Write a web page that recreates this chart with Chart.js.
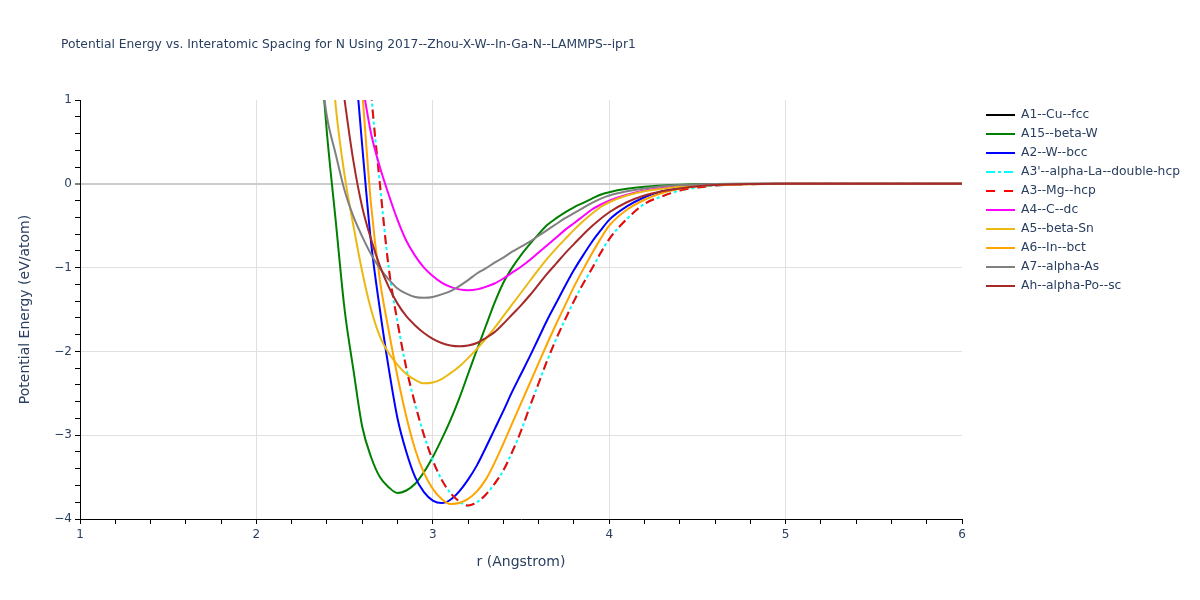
<!DOCTYPE html>
<html>
<head>
<meta charset="utf-8">
<script src="https://cdn.jsdelivr.net/npm/chart.js@4"></script>
<style>
  html, body { margin: 0; padding: 0; background: #fff; }
  #wrap { width: 1200px; height: 600px; }
</style>
</head>
<body>
<div id="wrap"><canvas id="energyChart" width="1200" height="600"></canvas></div>
<script>
// interatomic spacing (Angstrom), shared by all curves
const rValues = [2.35, 2.40, 2.45, 2.50, 2.55, 2.60, 2.65, 2.70, 2.75, 2.80, 2.85, 2.90, 2.95, 3.00,
    3.05, 3.10, 3.15, 3.20, 3.25, 3.30, 3.35, 3.40, 3.45, 3.50, 3.55, 3.60, 3.65, 3.70, 3.75, 3.80,
    3.85, 3.90, 3.95, 4.00, 4.1, 4.2, 4.3, 4.4, 4.5, 4.6, 4.8, 5.0, 5.5, 6.0];

// potential energy (eV/atom) per structure
const eA1 = []; // listed in the legend, no visible curve
const eA15 = [1.9, 0.6, -0.45, -1.5, -2.22, -2.9, -3.26, -3.5, -3.62, -3.69, -3.66, -3.58, -3.44, -3.26,
    -3.05, -2.82, -2.56, -2.27, -1.98, -1.70, -1.42, -1.18, -1.0, -0.85, -0.72, -0.6, -0.49, -0.41, -0.34, -0.28,
    -0.23, -0.18, -0.13, -0.1, -0.06, -0.035, -0.02, -0.01, -0.005, -0.002, 0, 0, 0, 0];
const eA2 = [null, null, null, null, 1.7, 0.45, -0.7, -1.5, -2.2, -2.8, -3.2, -3.5, -3.68, -3.78,
    -3.81, -3.77, -3.67, -3.53, -3.36, -3.15, -2.93, -2.71, -2.48, -2.27, -2.06, -1.84, -1.62, -1.42, -1.22, -1.03,
    -0.86, -0.7, -0.56, -0.43, -0.27, -0.16, -0.09, -0.05, -0.025, -0.012, -0.003, 0, 0, 0];
const eA3p = [null, null, null, null, null, 2.6, 1.1, 0.0, -1.0, -1.65, -2.2, -2.63, -3.0, -3.3,
    -3.53, -3.69, -3.79, -3.84, -3.8, -3.71, -3.58, -3.42, -3.2, -2.95, -2.66, -2.38, -2.1, -1.85, -1.62, -1.4,
    -1.2, -1.02, -0.83, -0.66, -0.42, -0.24, -0.15, -0.08, -0.045, -0.02, -0.005, 0, 0, 0];
const eA3 = [null, null, null, null, null, 2.6, 1.1, 0.0, -1.0, -1.65, -2.2, -2.63, -3.0, -3.3,
    -3.53, -3.69, -3.79, -3.84, -3.8, -3.71, -3.58, -3.42, -3.2, -2.95, -2.66, -2.38, -2.1, -1.85, -1.62, -1.4,
    -1.2, -1.02, -0.83, -0.66, -0.42, -0.24, -0.15, -0.08, -0.045, -0.02, -0.005, 0, 0, 0];
const eA4 = [null, null, null, null, null, 1.2, 0.6, 0.2, -0.13, -0.43, -0.68, -0.86, -1.0, -1.1,
    -1.18, -1.23, -1.26, -1.27, -1.26, -1.23, -1.19, -1.13, -1.06, -0.99, -0.91, -0.82, -0.73, -0.64, -0.55, -0.47,
    -0.39, -0.31, -0.25, -0.2, -0.13, -0.08, -0.05, -0.03, -0.015, -0.007, -0.001, 0, 0, 0];
const eA5 = [null, 2.2, 0.92, 0.1, -0.5, -1.05, -1.5, -1.82, -2.02, -2.16, -2.27, -2.34, -2.38, -2.37,
    -2.33, -2.26, -2.18, -2.08, -1.97, -1.85, -1.72, -1.58, -1.44, -1.3, -1.16, -1.02, -0.89, -0.77, -0.66, -0.55,
    -0.45, -0.36, -0.28, -0.22, -0.14, -0.09, -0.06, -0.035, -0.02, -0.01, -0.002, 0, 0, 0];
const eA6 = [null, null, null, null, 2.4, 1.1, -0.25, -1.15, -1.75, -2.3, -2.78, -3.17, -3.45, -3.64,
    -3.76, -3.82, -3.81, -3.76, -3.67, -3.53, -3.33, -3.1, -2.86, -2.62, -2.38, -2.14, -1.9, -1.67, -1.45, -1.23,
    -1.03, -0.84, -0.66, -0.5, -0.31, -0.19, -0.11, -0.06, -0.03, -0.015, -0.004, 0, 0, 0];
const eA7 = [1.6, 0.8, 0.35, -0.08, -0.39, -0.63, -0.84, -1.01, -1.14, -1.25, -1.31, -1.35, -1.36, -1.35,
    -1.32, -1.28, -1.22, -1.15, -1.07, -1.01, -0.94, -0.88, -0.81, -0.75, -0.69, -0.62, -0.55, -0.48, -0.41, -0.35,
    -0.29, -0.23, -0.18, -0.14, -0.09, -0.055, -0.03, -0.015, -0.007, -0.003, 0, 0, 0, 0];
const eAh = [null, null, 1.8, 1.0, 0.27, -0.28, -0.66, -0.98, -1.23, -1.43, -1.58, -1.69, -1.78, -1.85,
    -1.9, -1.93, -1.94, -1.93, -1.9, -1.84, -1.77, -1.67, -1.56, -1.45, -1.33, -1.2, -1.07, -0.95, -0.83, -0.72,
    -0.61, -0.51, -0.42, -0.34, -0.22, -0.14, -0.09, -0.055, -0.03, -0.015, -0.003, 0, 0, 0];

const seriesNames = ["A1--Cu--fcc", "A15--beta-W", "A2--W--bcc", "A3'--alpha-La--double-hcp", "A3--Mg--hcp",
    "A4--C--dc", "A5--beta-Sn", "A6--In--bct", "A7--alpha-As", "Ah--alpha-Po--sc"];
const seriesValues = [eA1, eA15, eA2, eA3p, eA3, eA4, eA5, eA6, eA7, eAh];
const seriesColors = ['black', 'green', 'blue', 'cyan', 'red', 'magenta', 'rgb(235,185,20)', 'orange', 'gray', 'brown'];
const seriesDash = [[], [], [], [9, 3, 3, 3], [9, 9], [], [], [], [], []];

const titleText = "Potential Energy vs. Interatomic Spacing for N Using 2017--Zhou-X-W--In-Ga-N--LAMMPS--ipr1";
const textColor = '#2a3f5f';
const fontFamily = '"DejaVu Sans", verdana, arial, sans-serif';

function isWhole(v) {
    return Math.abs(v - Math.round(v)) < 1e-6;
}

// title and the legend on the right, drawn like the plotly original
const sideText = {
    id: 'sideText',
    afterDraw(chart) {
        const ctx = chart.ctx;
        ctx.save();
        ctx.fillStyle = textColor;
        ctx.textBaseline = 'middle';
        ctx.font = '12.3px ' + fontFamily;
        ctx.fillText(titleText, 61, 45);

        chart.data.datasets.forEach((ds, i) => {
            const y = 115 + i * 19;
            ctx.strokeStyle = ds.borderColor;
            ctx.lineWidth = ds.borderWidth;
            ctx.setLineDash(ds.borderDash);
            ctx.beginPath();
            ctx.moveTo(986, y);
            ctx.lineTo(1015, y);
            ctx.stroke();
            ctx.setLineDash([]);
            ctx.fillText(ds.label, 1021, y);
        });
        ctx.restore();
    }
};

let _datasets = seriesNames.map((name, i) => ({
    label: name,
    data: rValues.map((r, j) => ({ x: r, y: seriesValues[i][j] === undefined ? null : seriesValues[i][j] })),
    borderColor: seriesColors[i],
    backgroundColor: seriesColors[i],
    borderWidth: 2,
    borderDash: seriesDash[i],
    pointRadius: 0,
    cubicInterpolationMode: 'monotone',
    spanGaps: false,
    order: seriesNames.length - i
}));

let energyChart = new Chart("energyChart", {
    type: 'line',
    data: { datasets: _datasets },
    plugins: [sideText],
    options: {
        responsive: false,
        animation: false,
        layout: { padding: { left: 0, right: 238, top: 100, bottom: 0 } },
        plugins: {
            legend: { display: false },
            title: { display: false },
            tooltip: { enabled: false }
        },
        scales: {
            x: {
                type: 'linear',
                min: 1,
                max: 6,
                afterFit: (scale) => { scale.height = 81; },
                border: { color: 'black', width: 1 },
                grid: {
                    color: (c) => (isWhole(c.tick.value) && c.tick.value > 1 && c.tick.value < 6) ? '#e0e0e0' : 'rgba(0,0,0,0)',
                    tickColor: 'black',
                    tickLength: 5,
                    tickWidth: 1
                },
                ticks: {
                    stepSize: 0.2,
                    autoSkip: false,
                    maxRotation: 0,
                    padding: 4,
                    color: textColor,
                    font: { family: fontFamily, size: 12 },
                    callback: (v) => isWhole(v) ? String(Math.round(v)) : ''
                },
                title: {
                    display: true,
                    text: 'r (Angstrom)',
                    color: textColor,
                    font: { family: fontFamily, size: 14 },
                    padding: { top: 0, bottom: 29 }
                }
            },
            y: {
                type: 'linear',
                min: -4,
                max: 1,
                afterFit: (scale) => { scale.width = 80; },
                border: { color: 'black', width: 1 },
                grid: {
                    color: (c) => {
                        const v = c.tick.value;
                        if (!isWhole(v) || v <= -4 || v >= 1) return 'rgba(0,0,0,0)';
                        return Math.round(v) === 0 ? '#cccccc' : '#e0e0e0';
                    },
                    lineWidth: (c) => (isWhole(c.tick.value) && Math.round(c.tick.value) === 0) ? 2 : 1,
                    tickColor: 'black',
                    tickLength: 5,
                    tickWidth: 1
                },
                ticks: {
                    stepSize: 0.2,
                    autoSkip: false,
                    padding: 3,
                    color: textColor,
                    font: { family: fontFamily, size: 12 },
                    callback: (v) => {
                        if (!isWhole(v)) return '';
                        const n = Math.round(v);
                        return n < 0 ? '\u2212' + Math.abs(n) : String(n);
                    }
                },
                title: {
                    display: true,
                    text: 'Potential Energy (eV/atom)',
                    color: textColor,
                    font: { family: fontFamily, size: 14 },
                    padding: { top: 17, bottom: 0 }
                }
            }
        }
    }
});
</script>
</body>
</html>
